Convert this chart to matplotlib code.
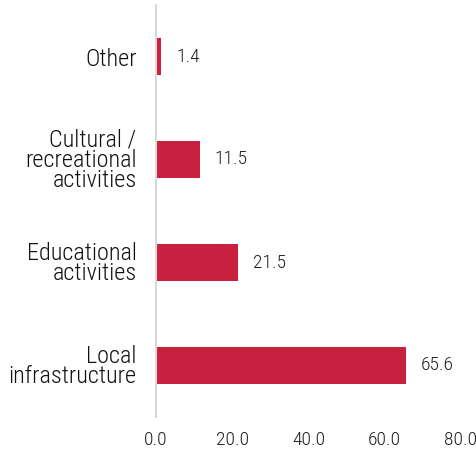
import matplotlib.pyplot as plt

plt.rcParams['font.family'] = ['Roboto Condensed', 'DejaVu Sans']
plt.rcParams['font.weight'] = 300

categories = ['Local\ninfrastructure', 'Educational\nactivities',
              'Cultural /\nrecreational\nactivities', 'Other']
values = [65.6, 21.5, 11.5, 1.4]
xticks = [0, 20, 40, 60, 80]

fig = plt.figure(figsize=(4.77, 4.58), dpi=100)
ax = fig.add_axes([156 / 477, 1 - 417 / 458, (461 - 156) / 477, 412 / 458])

pos = list(range(len(categories)))
ax.barh(pos, values, height=0.36, color='#c8203f')
for p, v in zip(pos, values):
    ax.text(v + 3.9, p, f'{v:.1f}', va='center', ha='left', fontsize=14, color='#1e1e1e')

ax.set_ylim(-0.5, 3.5)
ax.set_xlim(0, 80)
ax.set_yticks(pos)
ax.set_yticklabels(categories, fontsize=17.5, color='#111111', linespacing=0.85)
ax.set_xticks(xticks)
ax.set_xticklabels([f'{t:.1f}' for t in xticks], fontsize=14, color='#1e1e1e')
ax.tick_params(length=0)
ax.tick_params(axis='x', pad=10)
ax.tick_params(axis='y', pad=14)
for s in ['top', 'right', 'bottom']:
    ax.spines[s].set_visible(False)
ax.spines['left'].set_color('#d9d9d9')
ax.spines['left'].set_linewidth(1.5)

fig.savefig('out.png', dpi=100)
